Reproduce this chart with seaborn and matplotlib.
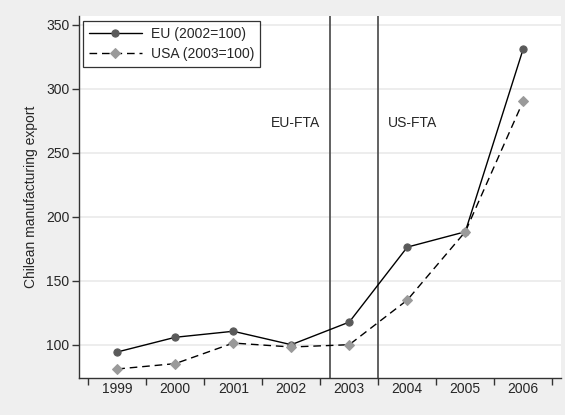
import matplotlib
matplotlib.use("Agg")
import matplotlib.pyplot as plt
import seaborn as sns
import pandas as pd

# Chilean manufacturing exports, indexed to the FTA base year
years = [1999, 2000, 2001, 2002, 2003, 2004, 2005, 2006]
eu_index = [94.3, 105.8, 110.5, 100.0, 117.7, 176.3, 188.3, 331.5]
usa_index = [81.0, 85.2, 101.3, 98.2, 100.0, 134.9, 188.3, 290.6]
series_labels = ["EU (2002=100)", "USA (2003=100)"]

# Entry into force of the free trade agreements (fractional years)
fta_names = ["EU-FTA", "US-FTA"]
fta_dates = [2002.66, 2003.49]
y_ticks = [100, 150, 200, 250, 300, 350]

sns.set_theme(style="white")
plt.rcParams["font.family"] = ["Liberation Sans", "DejaVu Sans"]
FS = 10

df = pd.DataFrame({"year": years, "eu": eu_index, "usa": usa_index})

fig = plt.figure(figsize=(5.65, 4.15), dpi=100, facecolor="#efefef")
ax = fig.add_axes([0.1398, 0.0899, 0.8531, 0.8715])
ax.set_facecolor("white")

for y in y_ticks:
    ax.axhline(y, color="#ececec", lw=1.3, zorder=0)

for x in fta_dates:
    ax.axvline(x, color="#555555", lw=1.3, zorder=1)

sns.lineplot(data=df, x="year", y="eu", ax=ax, color="black", lw=1.0,
             marker="o", markersize=5.2, markerfacecolor="#5a5a5a",
             markeredgecolor="#5a5a5a", label=series_labels[0], zorder=3)
sns.lineplot(data=df, x="year", y="usa", ax=ax, color="black", lw=1.0,
             linestyle=(0, (5.5, 3.5)), marker="D", markersize=5.2,
             markerfacecolor="#9a9a9a", markeredgecolor="#9a9a9a",
             label=series_labels[1], zorder=3)

ax.annotate(fta_names[0], xy=(fta_dates[0], 273.5), xytext=(-6.5, 0),
            textcoords="offset points", ha="right", va="center", fontsize=FS)
ax.annotate(fta_names[1], xy=(fta_dates[1], 273.5), xytext=(7, 0),
            textcoords="offset points", ha="left", va="center", fontsize=FS)

ax.set_xlim(years[0] - 0.66, years[-1] + 0.65)
ax.set_ylim(74.2, 357)
ax.set_yticks(y_ticks)
ax.set_yticklabels([str(v) for v in y_ticks], fontsize=FS)

# Year labels sit between boundary ticks
ax.set_xticks([y - 0.5 for y in years] + [years[-1] + 0.5])
ax.set_xticklabels([])
ax.set_xticks(years, minor=True)
ax.set_xticklabels([str(y) for y in years], minor=True, fontsize=FS)
ax.tick_params(axis="x", which="major", direction="out", length=5, width=1,
               color="#333333", bottom=True)
ax.tick_params(axis="x", which="minor", length=0, pad=3)
ax.tick_params(axis="y", direction="out", length=5, width=1, color="#333333",
               left=True, pad=2)

ax.set_xlabel("")
ax.set_ylabel("Chilean manufacturing export", fontsize=FS, labelpad=6)

for side in ["top", "right"]:
    ax.spines[side].set_visible(False)
for side in ["left", "bottom"]:
    ax.spines[side].set_color("#333333")
    ax.spines[side].set_linewidth(1.0)

leg = ax.legend(loc="upper left", bbox_to_anchor=(0.009, 0.985),
                frameon=True, fancybox=False, fontsize=FS, handlelength=3.8,
                borderpad=0.4, labelspacing=0.45, handletextpad=0.7,
                borderaxespad=0.0)
leg.get_frame().set_edgecolor("black")
leg.get_frame().set_linewidth(0.9)

fig.savefig("out.png", dpi=100, facecolor=fig.get_facecolor())
